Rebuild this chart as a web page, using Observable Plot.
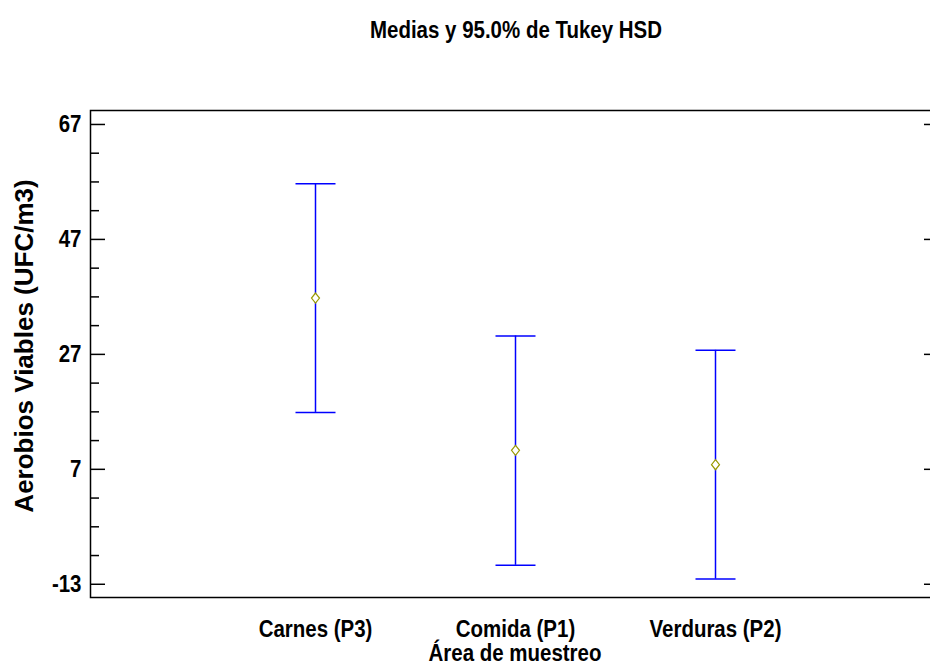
<!DOCTYPE html>
<html>
<head>
<meta charset="utf-8">
<script src="https://cdn.jsdelivr.net/npm/d3@7"></script>
<script src="https://cdn.jsdelivr.net/npm/@observablehq/plot@0.6"></script>
<style>
  html, body { margin: 0; padding: 0; background: #fff; overflow: hidden; width: 930px; height: 669px; }
  #wrap { position: relative; width: 930px; height: 669px; overflow: hidden; background: #fff; }
  #chart { position: absolute; left: 0; top: 0; z-index: 1; }
  #chart svg { max-width: none !important; background: transparent !important; }
  .lbl { position: absolute; z-index: 2; white-space: nowrap; color: #000; line-height: 1;
    font-family: "Liberation Sans", Arial, sans-serif; font-weight: bold; }
  #title { top: 19px; left: 516px; font-size: 23px; transform: translateX(-50%) scaleX(0.89); }
  #ylabel { left: 24px; top: 346px; font-size: 26px; transform: translate(-50%, -50%) rotate(-90deg); }
</style>
</head>
<body>
<div id="wrap">
  <div id="chart"></div>
  <div id="title" class="lbl">Medias y 95.0% de Tukey HSD</div>
  <div id="ylabel" class="lbl">Aerobios Viables (UFC/m3)</div>
</div>
<script>
const categories = ["Carnes (P3)", "Comida (P1)", "Verduras (P2)"];
const means = [36.8, 10.3, 7.8];
const lower = [16.9, -9.7, -12.1];
const upper = [56.7, 30.2, 27.7];
const yTicks = [-13, 7, 27, 47, 67];
const yMinorTicks = [-8, -3, 2, 12, 17, 22, 32, 37, 42, 52, 57, 62];
const xLabel = "Área de muestreo";

const rows = categories.map((c, i) => ({c, mean: means[i], lo: lower[i], hi: upper[i]}));

const font = '"Liberation Sans", Arial, sans-serif';
const blue = "#0000ff";

const capSymbol = {draw(ctx) { ctx.moveTo(-20, 0); ctx.lineTo(20, 0); }};
const diamondSymbol = {draw(ctx) { ctx.moveTo(0, -5); ctx.lineTo(4, 0); ctx.lineTo(0, 5); ctx.lineTo(-4, 0); ctx.closePath(); }};

const plot = Plot.plot({
  width: 945,
  height: 669,
  marginLeft: 90,
  marginRight: 6,
  marginTop: 110,
  marginBottom: 72,
  style: {fontFamily: font, fontWeight: "bold", fontSize: "23px", color: "#000", background: "transparent", overflow: "visible", maxWidth: "none"},
  x: {type: "point", domain: categories, padding: 1.117, label: null},
  y: {domain: [-15.3, 69.43], label: null},
  marks: [
    Plot.frame({stroke: "#000", strokeWidth: 1.5}),
    Plot.axisY({ticks: yTicks, tickSize: -15, tickPadding: 24, strokeWidth: 1.5, fontSize: 23, fontWeight: "bold", tickFormat: d => String(d), label: null}),
    Plot.axisY({ticks: yMinorTicks, tickSize: -9, strokeWidth: 1.5, text: null, label: null}),
    Plot.axisY({anchor: "right", ticks: yTicks, tickSize: -16, strokeWidth: 1.5, text: null, label: null}),
    Plot.axisY({anchor: "right", ticks: yMinorTicks, tickSize: -9, strokeWidth: 1.5, text: null, label: null}),
    Plot.axisX({tickSize: 0, tickPadding: 23, fontSize: 23, fontWeight: "bold", label: null}),
    Plot.text([xLabel], {frameAnchor: "bottom", dy: 56, lineAnchor: "middle", fontSize: 23, fontWeight: "bold"}),
    Plot.ruleX(rows, {x: "c", y1: "lo", y2: "hi", stroke: blue, strokeWidth: 1.5}),
    Plot.dot(rows, {x: "c", y: "hi", symbol: capSymbol, stroke: blue, strokeWidth: 1.5, r: 3}),
    Plot.dot(rows, {x: "c", y: "lo", symbol: capSymbol, stroke: blue, strokeWidth: 1.5, r: 3}),
    Plot.dot(rows, {x: "c", y: "mean", symbol: diamondSymbol, r: 3, fill: "#fff", stroke: "#999900", strokeWidth: 1.2})
  ]
});
plot.style.maxWidth = "none";
document.getElementById("chart").appendChild(plot);

// narrow the bold text to imitate a condensed face
d3.select(plot).selectAll("text").each(function() {
  const t = d3.select(this);
  const x = +(t.attr("x") || 0), y = +(t.attr("y") || 0);
  const tr = t.attr("transform") || "";
  t.attr("transform", `${tr} translate(${x},0) scale(0.89,1) translate(${-x},0)`);
});
</script>
</body>
</html>
